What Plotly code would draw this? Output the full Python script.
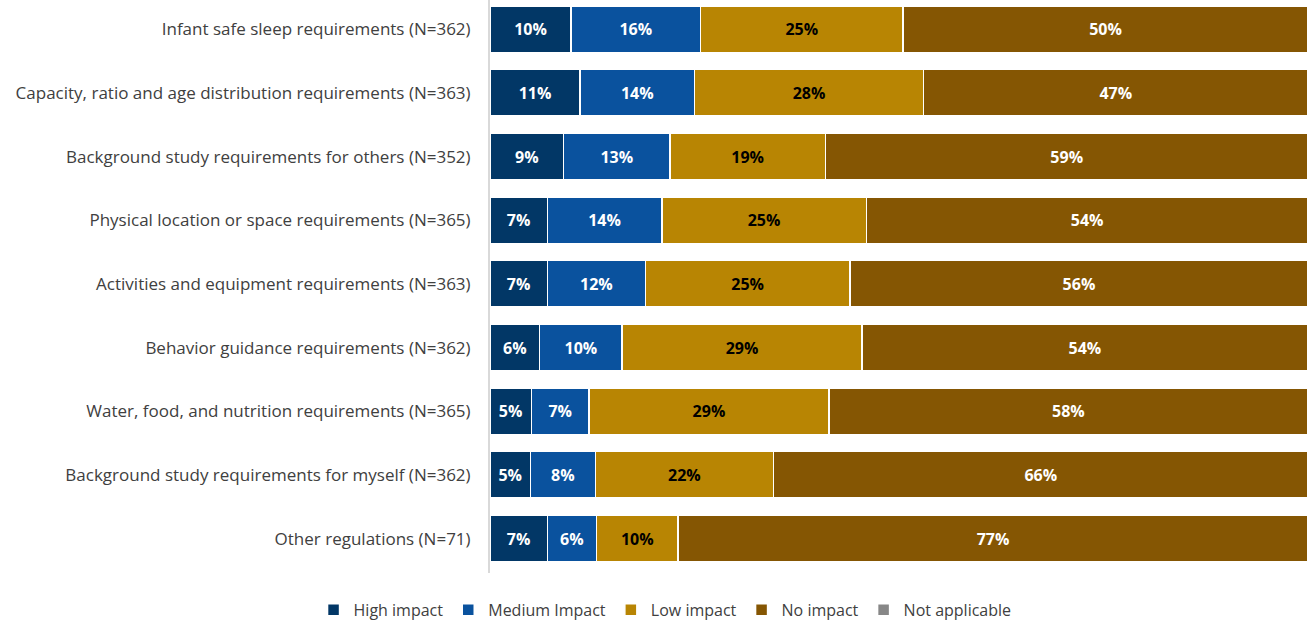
import plotly.graph_objects as go

categories = [
    "Infant safe sleep requirements (N=362)",
    "Capacity, ratio and age distribution requirements (N=363)",
    "Background study requirements for others (N=352)",
    "Physical location or space requirements (N=365)",
    "Activities and equipment requirements (N=363)",
    "Behavior guidance requirements (N=362)",
    "Water, food, and nutrition requirements (N=365)",
    "Background study requirements for myself (N=362)",
    "Other regulations (N=71)",
]

high_impact = [10, 11, 9, 7, 7, 6, 5, 5, 7]
medium_impact = [16, 14, 13, 14, 12, 10, 7, 8, 6]
low_impact = [25, 28, 19, 25, 25, 29, 29, 22, 10]
no_impact = [50, 47, 59, 54, 56, 54, 58, 66, 77]
not_applicable = [0, 0, 0, 0, 0, 0, 0, 0, 0]

series = [
    ("High impact", high_impact, "#023766", "white"),
    ("Medium Impact", medium_impact, "#0A529E", "white"),
    ("Low impact", low_impact, "#B88503", "black"),
    ("No impact", no_impact, "#855603", "white"),
    ("Not applicable", not_applicable, "#878787", "white"),
]

FONT = "Open Sans, Lato, sans-serif"

fig = go.Figure()
for name, vals, color, txtcolor in series:
    fig.add_trace(go.Bar(
        name=name,
        y=categories,
        x=vals,
        orientation="h",
        marker=dict(color=color, line=dict(color="white", width=1.5)),
        text=[f"{v}%" if v > 0 else "" for v in vals],
        textposition="inside",
        insidetextanchor="middle",
        textangle=0,
        textfont=dict(family=FONT, size=16, color=txtcolor, weight="bold"),
        hoverinfo="skip",
    ))

fig.update_layout(
    barmode="stack",
    barnorm="percent",
    bargap=0.27,
    width=1310,
    height=621,
    margin=dict(l=490, r=2, t=0, b=48, autoexpand=False),
    paper_bgcolor="white",
    plot_bgcolor="white",
    font=dict(family=FONT, size=17, color="#404040"),
    uniformtext=dict(minsize=8, mode="show"),
    legend=dict(
        orientation="h",
        x=0.214,
        xanchor="center",
        yref="container",
        y=0.018,
        yanchor="middle",
        font=dict(size=16, color="#404040"),
        itemwidth=30,
        traceorder="normal",
    ),
    showlegend=True,
)
fig.update_xaxes(range=[0, 100], showgrid=False, showticklabels=False,
                 zeroline=False, showline=False)
fig.update_yaxes(range=[8.54, -0.46], showgrid=False, showline=True,
                 linecolor="#D9D9D9", linewidth=2, ticks="",
                 ticklabelstandoff=14)

fig.write_html("out.html")
